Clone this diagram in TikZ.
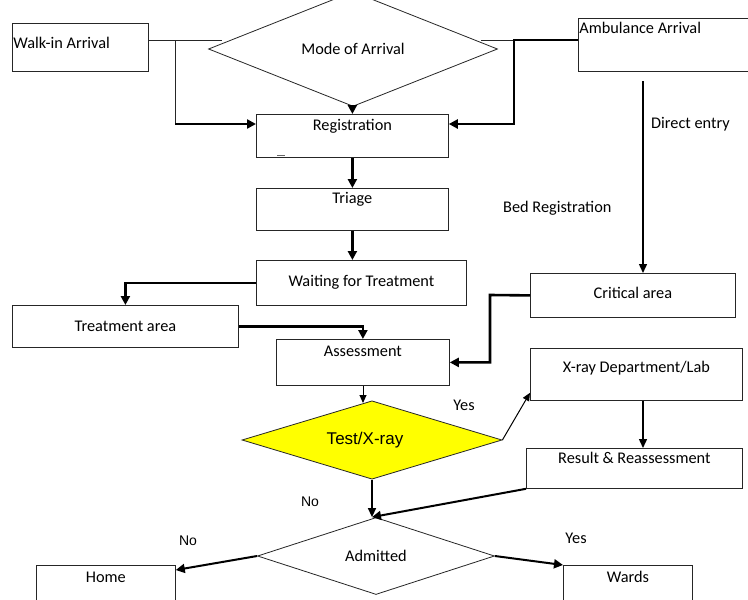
\documentclass[tikz,border=0pt]{standalone}
\usepackage{fontspec}
\setmainfont{Carlito}
\newfontfamily\arialfont{Liberation Sans}
\usetikzlibrary{shapes.geometric,arrows.meta}
\begin{document}
\begin{tikzpicture}[x=1pt,y=-1pt,
  box/.style={draw=black!85,line width=0.8pt,anchor=north west,inner sep=0pt,font=\fontsize{16.3}{18}\selectfont},
  dia/.style={diamond,draw=black!85,line width=0.8pt,inner sep=0pt,font=\fontsize{16.3}{18}\selectfont},
  thinln/.style={line width=0.8pt,draw=black!85},
  thickarr/.style={line width=2.6pt,-{Triangle[length=9pt,width=9pt]}},
  medarr/.style={line width=1.4pt,-{Triangle[length=9pt,width=8pt]}},
  thinarr/.style={line width=1pt,-{Triangle[length=8pt,width=7pt]}},
  lbl/.style={inner sep=0pt,font=\fontsize{16.3}{18}\selectfont},
  nolbl/.style={inner sep=0pt,font=\arialfont\fontsize{14}{16}\selectfont},
]
\useasboundingbox (0,0) rectangle (748,600);
\clip (0,0) rectangle (748,600);
\fill[white] (0,0) rectangle (748,600);

% boxes
\node[box,minimum width=136pt,text height=25pt,text depth=23pt] (walk) at (12,23) {\makebox[134pt][l]{Walk-in Arrival}};
\node[box,minimum width=200pt,text height=15pt,text depth=38pt] (amb) at (578,18) {\makebox[198pt][l]{Ambulance Arrival}};
\node[box,minimum width=192pt,text height=16pt,text depth=27pt] (reg) at (256,114) {Registration};
\node[box,minimum width=192pt,text height=15pt,text depth=27pt] (tri) at (256,188) {Triage};
\node[box,minimum width=210pt,text height=26pt,text depth=19pt] (wait) at (256,260) {Waiting for Treatment};
\node[box,minimum width=226pt,text height=26pt,text depth=16pt] (treat) at (12,305) {Treatment area};
\node[box,minimum width=173pt,text height=17pt,text depth=29pt] (assess) at (276,339) {Assessment};
\node[box,minimum width=205pt,text height=25pt,text depth=19pt] (crit) at (530,273) {Critical area};
\node[box,minimum width=212pt,text height=24pt,text depth=28pt] (xray) at (530,348) {X-ray Department/Lab};
\node[box,minimum width=216pt,text height=15pt,text depth=25pt] (res) at (526,448) {Result \& Reassessment};
\node[box,minimum width=139pt,text height=17pt,text depth=40pt] (home) at (36,565) {Home};
\node[box,minimum width=129pt,text height=17pt,text depth=40pt] (wards) at (563,565) {Wards};

% diamonds
\node[dia,minimum width=289pt,minimum height=83pt] (mode) at (353,49) {\raisebox{-1pt}{Mode of Arrival}};
\node[dia,fill={rgb,255:red,255;green,255;blue,0},minimum width=260pt,minimum height=75pt,font=\arialfont\fontsize{17}{19}\selectfont] (test) at (372,440) {\hspace*{-14pt}Test/X-ray};
\node[dia,minimum width=237pt,minimum height=77pt] (adm) at (376,556) {\raisebox{-4pt}{Admitted}};

% coordinates
\coordinate (jw) at (175,40);
\coordinate (stubL) at (222,40);
\coordinate (stubR) at (481,40);
\coordinate (ja) at (514,40);
\coordinate (rowR) at (0,124);
\coordinate (de) at (643,81);
\coordinate (jc) at (490,295);
\coordinate (ax) at (363,0);

% connectors
\draw[thinln] (walk.east |- jw) -- (stubL);
\draw[thinln] (jw) -- (jw |- rowR);
\draw[thickarr] (jw |- rowR) -- (reg.west |- rowR);
\draw[thinln] (stubR) -- (ja);
\draw[thickarr] (amb.west |- ja) -- (ja) |- (reg.east |- rowR);
\draw[thickarr] (mode.south -| reg.north) -- (reg.north);
\draw[thickarr] (reg.south) -- (tri.north);
\draw[thickarr] (tri.south) -- (wait.north -| tri.south);
\draw[thickarr] (wait.west) -| (treat.north);
\draw[thickarr] (treat.east) -| (assess.north);
\draw[thickarr] (crit.west) -- (jc) |- (assess.east);
\draw[medarr] (de) -- (de |- crit.north);
\draw[medarr] (de |- xray.south) -- (de |- res.north);
\draw[thinarr] (assess.south -| ax) -- (ax |- 0,403);
\draw[thinarr] (test.east) -- ([yshift=8pt]xray.south west);
\draw[medarr] (test.south) -- (test.south |- adm.north);
\draw[thickarr,line width=2pt] (res.south west) -- (test.south |- adm.north);
\draw[thickarr,line width=2pt] (adm.west) -- ([yshift=-5pt]home.north east);
\draw[thickarr,line width=2pt] (adm.east) -- (wards.north west);
\draw[line width=0.6pt,black!60] (277,155) -- (285,155);

% labels
\node[lbl,anchor=west] (ldirect) at (651,124) {Direct entry};
\node[lbl,anchor=west] (lbed) at (503,208) {Bed Registration};
\node[lbl] (lyes1) at (464,405) {Yes};
\node[nolbl] (lno1) at (310,502) {No};
\node[nolbl] (lno2) at (188,541) {No};
\node[lbl] (lyes2) at (576,538) {Yes};
\end{tikzpicture}
\end{document}
